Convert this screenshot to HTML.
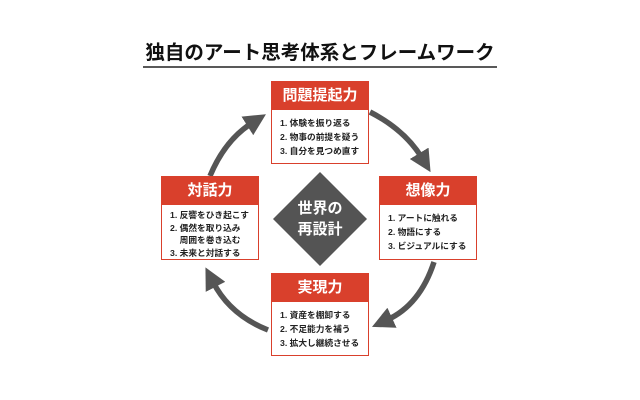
<!DOCTYPE html>
<html><head><meta charset="utf-8"><style>
body{margin:0;background:#fff;width:640px;height:400px;overflow:hidden;font-family:"Liberation Sans","Noto Sans CJK JP",sans-serif}
svg{position:absolute;left:0;top:0}
.box{position:absolute;width:98px;border:1.5px solid #d9402c;background:#fff;box-sizing:border-box}
.h{background:#d9402c;color:#fff;font-weight:bold;font-size:15px;text-align:center;height:28px;line-height:28px}
.b{font-size:8.7px;color:#222;padding:6px 0 0 8px;line-height:14px;white-space:nowrap;font-weight:bold}
.b4{padding-top:4px;line-height:12.5px}
</style></head><body>
<svg width="640" height="400">
<defs><marker id="m" markerWidth="4" markerHeight="4" refX="1" refY="2" orient="auto"><path d="M0,0 L4,2 L0,4 z" fill="#555"/></marker></defs>
<g fill="none" stroke="#555" stroke-width="5.5">
<path d="M370,112 Q405,130 422,158" marker-end="url(#m)"/>
<path d="M434,262 Q420,305 387,320" marker-end="url(#m)"/>
<path d="M268,330 Q230,315 213,282" marker-end="url(#m)"/>
<path d="M210,176 Q225,140 252,123" marker-end="url(#m)"/>
</g>
<polygon points="320,172 367,219 320,266 273,219" fill="#545454"/>
<text x="320" y="213" font-size="15" font-weight="bold" fill="#fff" text-anchor="middle" font-family="Liberation Sans,Noto Sans CJK JP,sans-serif">世界の</text>
<text x="320" y="234" font-size="15" font-weight="bold" fill="#fff" text-anchor="middle" font-family="Liberation Sans,Noto Sans CJK JP,sans-serif">再設計</text>
<line x1="143" y1="67" x2="497" y2="67" stroke="#222" stroke-width="1.5"/>
<text x="320" y="59" font-size="19.5" font-weight="bold" fill="#111" text-anchor="middle" font-family="Liberation Sans,Noto Sans CJK JP,sans-serif">独自のアート思考体系とフレームワーク</text>
</svg>
<div class="box" style="left:271px;top:81px;height:83px"><div class="h">問題提起力</div><div class="b">1. 体験を振り返る<br>2. 物事の前提を疑う<br>3. 自分を見つめ直す</div></div>
<div class="box" style="left:161px;top:176px;height:84px"><div class="h">対話力</div><div class="b b4">1. 反響をひき起こす<br>2. 偶然を取り込み<br>&nbsp;&nbsp;&nbsp;&nbsp;周囲を巻き込む<br>3. 未来と対話する</div></div>
<div class="box" style="left:379px;top:176px;height:84px"><div class="h">想像力</div><div class="b">1. アートに触れる<br>2. 物語にする<br>3. ビジュアルにする</div></div>
<div class="box" style="left:271px;top:273px;height:83px"><div class="h">実現力</div><div class="b">1. 資産を棚卸する<br>2. 不足能力を補う<br>3. 拡大し継続させる</div></div>
</body></html>
